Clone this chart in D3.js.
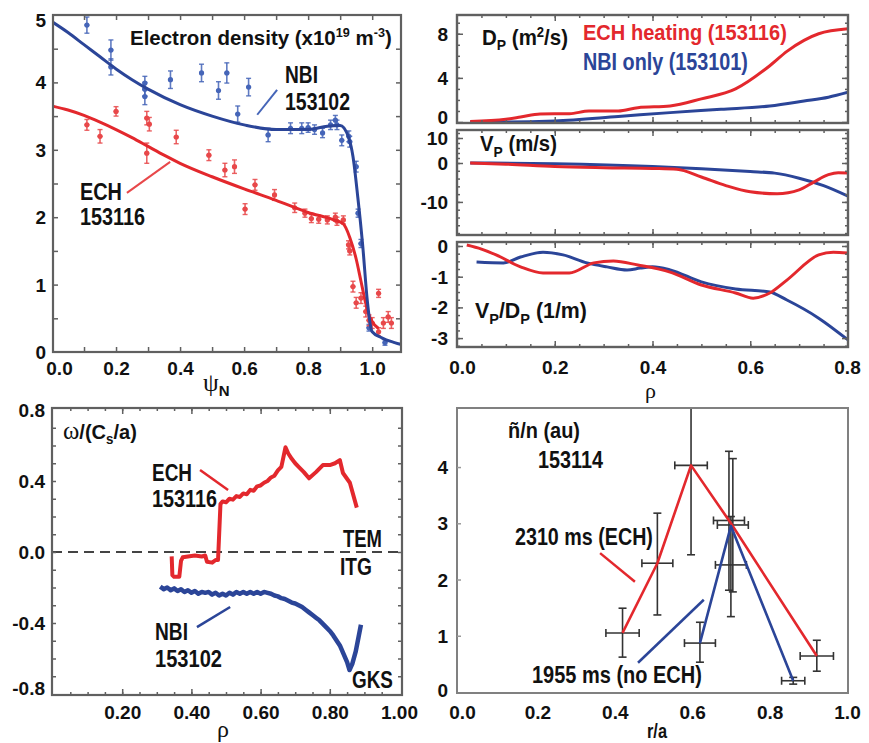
<!DOCTYPE html>
<html><head><meta charset="utf-8">
<script src="https://cdn.jsdelivr.net/npm/d3@7"></script>
<style>
body{margin:0;background:#fff}
svg{display:block}
text{font-family:"Liberation Sans",Arial,Helvetica,sans-serif;font-weight:bold;fill:#111}
</style></head><body>
<svg id="c" width="869" height="743"></svg>
<script>
// ================= DATA =================
// Panel A: electron density vs psi_N
const psiTickLabels = [0.0, 0.2, 0.4, 0.6, 0.8, 1.0];
const neTickLabels = [0, 1, 2, 3, 4, 5];
const nbiFit = [[0,4.9],[0.05,4.74],[0.1,4.56],[0.15,4.38],[0.2,4.2],[0.25,4.04],[0.3,3.9],[0.4,3.67],[0.5,3.5],[0.6,3.37],[0.7,3.3],[0.8,3.3],[0.86,3.35],[0.9,3.36],[0.925,3.2],[0.94,2.9],[0.955,2.3],[0.97,1.6],[0.985,0.75],[0.995,0.38],[1.0,0.3],[1.03,0.21],[1.07,0.14],[1.1,0.1]];
const echFit = [[0,3.65],[0.05,3.59],[0.1,3.51],[0.15,3.41],[0.2,3.3],[0.25,3.18],[0.3,3.05],[0.35,2.92],[0.4,2.8],[0.5,2.6],[0.6,2.42],[0.7,2.25],[0.8,2.07],[0.88,1.96],[0.91,1.9],[0.93,1.7],[0.95,1.38],[0.965,1.05],[0.98,0.72],[0.99,0.55],[1.0,0.45],[1.02,0.35]];
// [psi, ne, error]
const nbiPts = [[0.109,4.85,0.12],[0.184,4.48,0.15],[0.184,4.23,0.12],[0.29,3.99,0.1],[0.29,3.9,0.1],[0.29,3.79,0.12],[0.37,4.04,0.13],[0.467,4.14,0.13],[0.52,3.88,0.13],[0.546,4.14,0.15],[0.614,3.93,0.13],[0.58,3.53,0.12],[0.675,3.22,0.1],[0.745,3.32,0.08],[0.78,3.32,0.08],[0.80,3.33,0.07],[0.82,3.3,0.07],[0.845,3.25,0.07],[0.87,3.37,0.07],[0.885,3.44,0.07],[0.89,3.37,0.07],[0.905,3.14,0.08],[0.927,3.2,0.08],[0.93,3.12,0.08],[0.95,2.75,0.08],[0.956,2.06,0.06],[0.965,1.61,0.06],[0.99,0.36,0.05],[1.04,0.14,0.04]];
const echPts = [[0.109,3.37,0.08],[0.15,3.2,0.1],[0.2,3.57,0.07],[0.296,3.47,0.1],[0.304,3.38,0.1],[0.296,2.95,0.15],[0.388,3.19,0.1],[0.49,2.92,0.08],[0.54,2.7,0.1],[0.57,2.75,0.1],[0.603,2.12,0.08],[0.634,2.48,0.08],[0.695,2.33,0.08],[0.758,2.14,0.07],[0.79,2.06,0.06],[0.81,1.98,0.06],[0.833,1.97,0.06],[0.86,1.96,0.06],[0.885,2.0,0.06],[0.89,1.94,0.06],[0.91,1.96,0.06],[0.926,1.59,0.06],[0.93,1.5,0.06],[0.94,0.97,0.08],[0.95,0.73,0.08],[0.965,0.8,0.08],[0.98,0.6,0.08],[0.99,0.47,0.08],[1.0,0.43,0.08],[1.02,0.87,0.06],[1.02,0.3,0.06],[1.035,0.43,0.08],[1.05,0.52,0.08],[1.06,0.43,0.08]];

// Panel B: transport coefficients vs rho
const rhoTickLabelsB = [0.0, 0.2, 0.4, 0.6, 0.8];
const dTickLabels = [0, 4, 8];
const vTickLabels = [-10, 0, 10];
const vdTickLabels = [-3, -2, -1, 0];
const dEch = [[0.027,0.05],[0.1,0.25],[0.13,0.45],[0.17,0.73],[0.23,0.75],[0.27,1.0],[0.33,1.0],[0.37,1.3],[0.436,1.45],[0.5,2.1],[0.57,3.0],[0.64,5.1],[0.675,6.4],[0.71,7.4],[0.74,8.0],[0.8,8.45]];
const dNbi = [[0.027,0],[0.1,0],[0.2,0.1],[0.33,0.5],[0.436,0.85],[0.54,1.15],[0.64,1.45],[0.71,1.9],[0.76,2.25],[0.8,2.7]];
const vEch = [[0.027,0],[0.1,-0.3],[0.2,-0.9],[0.3,-1.2],[0.4,-1.4],[0.45,-1.6],[0.5,-3.6],[0.55,-5.8],[0.6,-7.4],[0.655,-7.9],[0.7,-6.9],[0.73,-4.9],[0.76,-3.0],[0.78,-2.5],[0.8,-2.6]];
const vNbi = [[0.027,0],[0.2,-0.2],[0.4,-0.9],[0.5,-1.5],[0.6,-2.2],[0.65,-2.6],[0.7,-3.9],[0.75,-5.8],[0.8,-8.5]];
const vdEch = [[0.02,0.03],[0.05,-0.1],[0.08,-0.29],[0.13,-0.68],[0.176,-0.88],[0.23,-0.88],[0.28,-0.55],[0.32,-0.49],[0.37,-0.62],[0.436,-0.85],[0.5,-1.27],[0.57,-1.53],[0.606,-1.7],[0.64,-1.53],[0.675,-1.11],[0.74,-0.29],[0.77,-0.2],[0.8,-0.23]];
const vdNbi = [[0.04,-0.52],[0.095,-0.55],[0.13,-0.36],[0.176,-0.2],[0.217,-0.29],[0.266,-0.55],[0.307,-0.68],[0.348,-0.78],[0.375,-0.72],[0.4,-0.68],[0.436,-0.78],[0.5,-1.17],[0.57,-1.4],[0.64,-1.5],[0.675,-1.76],[0.74,-2.35],[0.8,-3.06]];

// Panel C: real frequency omega/(Cs/a) vs rho (GKS)
const rhoTickLabelsC = [0.2, 0.4, 0.6, 0.8, 1.0];
const omegaTickLabels = [-0.8, -0.4, 0.0, 0.4, 0.8];
const omegaEch = [[0.343,-0.025],[0.345,-0.13],[0.35,-0.14],[0.365,-0.14],[0.37,-0.05],[0.375,-0.03],[0.39,-0.025],[0.41,-0.02],[0.43,-0.025],[0.44,-0.02],[0.445,-0.055],[0.46,-0.06],[0.47,-0.045],[0.477,-0.045],[0.484,0.27],[0.49,0.285],[0.5,0.28],[0.51,0.3],[0.52,0.295],[0.53,0.315],[0.54,0.31],[0.55,0.33],[0.56,0.325],[0.57,0.35],[0.58,0.345],[0.59,0.37],[0.6,0.375],[0.61,0.39],[0.62,0.4],[0.63,0.42],[0.64,0.43],[0.65,0.46],[0.66,0.48],[0.672,0.59],[0.68,0.555],[0.69,0.525],[0.7,0.5],[0.71,0.48],[0.725,0.45],[0.74,0.415],[0.76,0.45],[0.78,0.49],[0.8,0.49],[0.815,0.5],[0.829,0.518],[0.838,0.445],[0.858,0.39],[0.878,0.25]];
const omegaNbi = [[0.31,-0.195],[0.32,-0.21],[0.33,-0.2],[0.34,-0.215],[0.35,-0.205],[0.36,-0.22],[0.37,-0.21],[0.38,-0.225],[0.39,-0.215],[0.4,-0.23],[0.41,-0.22],[0.42,-0.235],[0.43,-0.225],[0.44,-0.23],[0.45,-0.225],[0.46,-0.24],[0.47,-0.23],[0.48,-0.245],[0.49,-0.235],[0.5,-0.245],[0.51,-0.23],[0.52,-0.24],[0.53,-0.225],[0.54,-0.235],[0.55,-0.225],[0.56,-0.235],[0.57,-0.225],[0.58,-0.235],[0.59,-0.225],[0.6,-0.235],[0.61,-0.225],[0.62,-0.23],[0.63,-0.235],[0.64,-0.245],[0.65,-0.25],[0.66,-0.26],[0.67,-0.265],[0.68,-0.275],[0.69,-0.285],[0.7,-0.29],[0.71,-0.3],[0.72,-0.31],[0.73,-0.325],[0.74,-0.34],[0.75,-0.355],[0.76,-0.37],[0.77,-0.385],[0.78,-0.405],[0.79,-0.425],[0.8,-0.445],[0.81,-0.47],[0.82,-0.5],[0.83,-0.53],[0.84,-0.575],[0.85,-0.62],[0.857,-0.665],[0.865,-0.63],[0.875,-0.56],[0.883,-0.48],[0.89,-0.41]];

// Panel D: density fluctuation vs r/a
const raTickLabels = [0.0, 0.2, 0.4, 0.6, 0.8, 1.0];
const fluctTickLabels = [0, 1, 2, 3, 4];
// [r/a, value, low, high, xerr]
const fluctPts = [[0.42,1.05,0.62,1.49,0.043],[0.51,2.29,1.37,3.18,0.04],[0.597,4.03,2.44,5.2,0.042],[0.695,3.05,1.81,4.28,0.04],[0.705,2.97,1.78,4.15,0.04],[0.70,2.26,1.34,3.12,0.04],[0.62,0.87,0.53,1.24,0.04],[0.861,0.2,0.14,0.26,0.03],[0.922,0.64,0.37,0.92,0.043]];
const fluctEch = [[0.42,1.05],[0.51,2.29],[0.597,4.03],[0.70,3.0],[0.922,0.64]];
const fluctNbi = [[0.62,0.87],[0.70,2.95],[0.861,0.2]];

// ================= DRAWING =================
const svg = d3.select('#c');
const RED = '#e3282d', BLUE = '#2b4598', RED_L = '#e8484a', BLUE_L = '#4565b8';
const FRAME = '#606060';

function frameRect(g, f, color, w){
  g.append('rect').attr('x',f[0]).attr('y',f[2]).attr('width',f[1]-f[0]).attr('height',f[3]-f[2])
   .attr('fill','none').attr('stroke',color||FRAME).attr('stroke-width',w||2.2);
}
function clip(id, f){
  svg.append('clipPath').attr('id',id).append('rect').attr('x',f[0]).attr('y',f[2]).attr('width',f[1]-f[0]).attr('height',f[3]-f[2]);
  return svg.append('g').attr('clip-path',`url(#${id})`);
}
function ticks(g, scale, vals, side, f, len, color){
  let ax, tr;
  if(side==='bottom'){ax=d3.axisBottom(scale); tr=`translate(0,${f[3]})`;}
  if(side==='top'){ax=d3.axisTop(scale); tr=`translate(0,${f[2]})`;}
  if(side==='left'){ax=d3.axisLeft(scale); tr=`translate(${f[0]},0)`;}
  if(side==='right'){ax=d3.axisRight(scale); tr=`translate(${f[1]},0)`;}
  const a = g.append('g').attr('transform',tr).call(ax.tickValues(vals).tickSize(-len).tickFormat(''));
  a.select('.domain').remove();
  a.selectAll('line').attr('stroke',color||FRAME).attr('stroke-width',1.5);
}
function labels(g, orient, scale, vals, fmt, pos, shift, fs){
  shift = shift||{};
  const ax = (orient==='bottom'?d3.axisBottom:d3.axisLeft)(scale).tickValues(vals).tickSize(0).tickFormat(fmt);
  const a = g.append('g').attr('transform', orient==='bottom'?`translate(0,${pos})`:`translate(${pos},0)`).call(ax);
  a.select('.domain').remove();
  const t = a.selectAll('text').style('font-size',(fs||19)+'px').attr('fill','#111');
  if(orient==='bottom'){ t.attr('y',0).attr('dy',0).attr('dx', d=>shift[d]||0); }
  else { t.attr('x',0).attr('dy', d=>6.5+(shift[d]||0)); }
}
function fitText(x, y, w, parts, opt){
  opt = opt||{};
  const t = svg.append('text').attr('x',0).attr('y',0).style('font-size',(opt.fs||24)+'px').style('fill',opt.color||'#111');
  if(opt.family) t.style('font-family',opt.family);
  if(opt.weight) t.style('font-weight',opt.weight);
  parts.forEach(p=>{
    if(typeof p==='string'){ t.append('tspan').text(p); return; }
    const s = t.append('tspan').text(p.t);
    if(p.fs) s.style('font-size',p.fs+'px');
    if(p.dy) s.attr('dy',p.dy);
    if(p.family) s.style('font-family',p.family);
    if(p.weight) s.style('font-weight',p.weight);
  });
  const bw = t.node().getComputedTextLength();
  const sx = w ? w/bw : 1;
  t.attr('transform',`translate(${x},${y}) scale(${sx},1)`);
  return t;
}
function leader(xs, ys, p0, p1, color, w){
  svg.append('line').attr('x1',xs(p0[0])).attr('y1',ys(p0[1])).attr('x2',xs(p1[0])).attr('y2',ys(p1[1]))
    .attr('stroke',color).attr('stroke-width',w||2);
}
const mono = (xs,ys)=>d3.line().x(d=>xs(d[0])).y(d=>ys(d[1])).curve(d3.curveMonotoneX);
const lin = (xs,ys)=>d3.line().x(d=>xs(d[0])).y(d=>ys(d[1]));
const GREEK = '"Liberation Serif","DejaVu Serif",serif';

// ---------- Panel A ----------
{
  const f=[53,401,15,352];
  const x=d3.scaleLinear([0,1.09],[52,401]);
  const y=d3.scaleLinear([0,5],[352,15]);
  const g=clip('cA',f);
  [[nbiPts,BLUE_L],[echPts,RED_L]].forEach(([pts,col])=>{
    const pg=g.append('g');
    pts.forEach(d=>{
      const px=x(d[0]), y0=y(d[1]-d[2]), y1=y(d[1]+d[2]);
      pg.append('line').attr('x1',px).attr('x2',px).attr('y1',y0).attr('y2',y1).attr('stroke',col).attr('stroke-width',1.6).attr('opacity',0.85);
      [y0,y1].forEach(yy=>pg.append('line').attr('x1',px-2.5).attr('x2',px+2.5).attr('y1',yy).attr('y2',yy).attr('stroke',col).attr('stroke-width',1.4).attr('opacity',0.85));
      pg.append('line').attr('x1',px-2.5).attr('x2',px+2.5).attr('y1',y(d[1])).attr('y2',y(d[1])).attr('stroke',col).attr('stroke-width',1.4);
      pg.append('circle').attr('cx',px).attr('cy',y(d[1])).attr('r',2.6).attr('fill',col);
    });
  });
  g.append('path').datum(echFit).attr('d',mono(x,y)).attr('fill','none').attr('stroke',RED).attr('stroke-width',3);
  g.append('path').datum(nbiFit).attr('d',mono(x,y)).attr('fill','none').attr('stroke',BLUE).attr('stroke-width',3);
  frameRect(svg,f);
  ticks(svg,x,d3.range(0.1,1.05,0.1),'bottom',f,5);
  ticks(svg,x,d3.range(0.1,1.05,0.1),'top',f,5);
  ticks(svg,y,d3.range(0.5,5,0.5),'left',f,5);
  ticks(svg,y,d3.range(0.5,5,0.5),'right',f,5);
  labels(svg,'bottom',x,psiTickLabels,d=>d.toFixed(1),375,{0:7});
  labels(svg,'left',y,neTickLabels,d=>String(d),46,{5:5});
  fitText(130,45,262,['Electron density (x10',{t:'19',fs:13,dy:-8},{t:' m',dy:8},{t:'-3',fs:13,dy:-8},{t:')',dy:8}],{fs:21});
  fitText(285,83,33,['NBI']);
  fitText(285,110,65,['153102']);
  fitText(80,200,42,['ECH']);
  fitText(80,225,65,['153116']);
  leader(x,y,[0.703,3.89],[0.641,3.52],BLUE_L,2);
  leader(x,y,[0.234,2.36],[0.369,2.82],RED_L,2);
  fitText(203,391,null,[{t:'ψ',family:GREEK,weight:'normal',fs:25},{t:'N',fs:15,dy:5}],{fs:25});
}

// ---------- Panel B ----------
{
  const x=d3.scaleLinear([0,0.8],[457,848]);
  const subs=[
    {f:[457,848,15,123], y:d3.scaleLinear([0,9.7],[122,15]), ech:dEch, nbi:dNbi, ticks:dTickLabels, minor:d3.range(1,10,1), shift:{0:-5}, id:'cB1'},
    {f:[457,848,130,235], y:d3.scaleLinear([-18.5,0,13.2],[235,163,130]), ech:vEch, nbi:vNbi, ticks:vTickLabels, minor:d3.range(-18,13,2), shift:{}, id:'cB2'},
    {f:[457,848,242,347], y:d3.scaleLinear([-3.29,0.13],[347,242]), ech:vdEch, nbi:vdNbi, ticks:vdTickLabels, minor:d3.range(-3.25,0.1,0.25), shift:{}, id:'cB3'}
  ];
  subs.forEach(s=>{
    const g=clip(s.id,s.f);
    g.append('path').datum(s.nbi).attr('d',mono(x,s.y)).attr('fill','none').attr('stroke',BLUE).attr('stroke-width',3);
    g.append('path').datum(s.ech).attr('d',mono(x,s.y)).attr('fill','none').attr('stroke',RED).attr('stroke-width',3);
    frameRect(svg,s.f,FRAME,2.4);
    const minorX=d3.range(0.05,0.8,0.05), majorX=[0.2,0.4,0.6];
    ticks(svg,x,minorX,'bottom',s.f,3); ticks(svg,x,minorX,'top',s.f,3);
    ticks(svg,x,majorX,'bottom',s.f,6); ticks(svg,x,majorX,'top',s.f,6);
    ticks(svg,s.y,s.minor,'left',s.f,3); ticks(svg,s.y,s.minor,'right',s.f,3);
    ticks(svg,s.y,s.ticks,'left',s.f,6); ticks(svg,s.y,s.ticks,'right',s.f,6);
    labels(svg,'left',s.y,s.ticks,d=>String(d),448,s.shift);
  });
  labels(svg,'bottom',x,rhoTickLabelsB,d=>d.toFixed(1),374,{0:5,0.8:-1});
  fitText(482,45,86,['D',{t:'P',fs:15,dy:5},{t:' (m',dy:-5},{t:'2',fs:14,dy:-8},{t:'/s)',dy:8}],{fs:22});
  fitText(583,40,204,['ECH heating (153116)'],{fs:23,color:RED});
  fitText(583,70,165,['NBI only (153101)'],{fs:23,color:BLUE});
  fitText(480,151,77,['V',{t:'P',fs:15,dy:6},{t:' (m/s)',dy:-6}],{fs:22});
  fitText(475,318,112,['V',{t:'P',fs:15,dy:6},{t:'/D',dy:-6},{t:'P',fs:15,dy:6},{t:' (1/m)',dy:-6}],{fs:22});
  fitText(645,398,null,[{t:'ρ',family:GREEK,weight:'normal'}],{fs:22});
}

// ---------- Panel C ----------
{
  const f=[52,402,408,695];
  const x=d3.scaleLinear([0,1],[53,399]);
  const y=d3.scaleLinear([-0.8,0.8],[694,410]);
  const g=clip('cC',f);
  g.append('line').attr('x1',f[0]).attr('x2',f[1]).attr('y1',y(0)).attr('y2',y(0)).attr('stroke','#444').attr('stroke-width',2).attr('stroke-dasharray','10,6');
  g.append('path').datum(omegaNbi).attr('d',lin(x,y)).attr('fill','none').attr('stroke',BLUE).attr('stroke-width',4.5).attr('stroke-linejoin','round');
  g.append('path').datum(omegaEch).attr('d',lin(x,y)).attr('fill','none').attr('stroke',RED).attr('stroke-width',4).attr('stroke-linejoin','round');
  frameRect(svg,f);
  const minorX=d3.range(0.05,1,0.05), majorX=[0.2,0.4,0.6,0.8];
  ticks(svg,x,minorX,'bottom',f,3); ticks(svg,x,minorX,'top',f,3);
  ticks(svg,x,majorX,'bottom',f,6); ticks(svg,x,majorX,'top',f,6);
  const minorY=d3.range(-0.7,0.8,0.1);
  ticks(svg,y,minorY,'left',f,4); ticks(svg,y,minorY,'right',f,4);
  labels(svg,'bottom',x,rhoTickLabelsC,d=>d.toFixed(2),719);
  labels(svg,'left',y,omegaTickLabels,d=>d.toFixed(1),45,{'-0.8':-6});
  fitText(63,439,74,[{t:'ω',family:GREEK,weight:'normal',fs:26},'/(C',{t:'s',fs:14,dy:5},{t:'/a)',dy:-5}],{fs:21});
  fitText(152,481,40,['ECH']);
  fitText(152,507,65,['153116']);
  fitText(343,547,39,['TEM']);
  fitText(340,575,32,['ITG']);
  fitText(155,640,33,['NBI']);
  fitText(155,667,67,['153102']);
  fitText(352,688,41,['GKS']);
  leader(x,y,[0.425,0.462],[0.506,0.349],RED,2.5);
  leader(x,y,[0.416,-0.423],[0.512,-0.31],BLUE,2.5);
  fitText(217,737,null,[{t:'ρ',family:GREEK,weight:'normal'}],{fs:24});
}

// ---------- Panel D ----------
{
  const f=[457,848,408,693];
  const x=d3.scaleLinear([0,1],[460,847]);
  const y=d3.scaleLinear([0,5.05],[692,408]);
  const g=clip('cD',f);
  const eg=g.append('g').attr('stroke','#333').attr('stroke-width',1.6);
  fluctPts.forEach(d=>{
    const px=x(d[0]), py=y(d[1]);
    eg.append('line').attr('x1',px).attr('x2',px).attr('y1',y(d[2])).attr('y2',y(d[3]));
    [d[2],d[3]].forEach(v=>eg.append('line').attr('x1',px-4).attr('x2',px+4).attr('y1',y(v)).attr('y2',y(v)));
    eg.append('line').attr('x1',x(d[0]-d[4])).attr('x2',x(d[0]+d[4])).attr('y1',py).attr('y2',py);
    [d[0]-d[4],d[0]+d[4]].forEach(v=>eg.append('line').attr('x1',x(v)).attr('x2',x(v)).attr('y1',py-4).attr('y2',py+4));
  });
  g.append('path').datum(fluctEch).attr('d',lin(x,y)).attr('fill','none').attr('stroke',RED).attr('stroke-width',2.6).attr('stroke-linejoin','round');
  g.append('path').datum(fluctNbi).attr('d',lin(x,y)).attr('fill','none').attr('stroke',BLUE).attr('stroke-width',2.6).attr('stroke-linejoin','round');
  frameRect(svg,f,'#808080',2);
  ticks(svg,y,fluctTickLabels.slice(1),'left',f,4,'#999');
  labels(svg,'bottom',x,raTickLabels,d=>d.toFixed(1),719,{0:2});
  labels(svg,'left',y,fluctTickLabels,d=>String(d),448,{0:-2});
  fitText(508,438,72,['ñ/n (au)'],{fs:22});
  fitText(538,468,65,['153114']);
  fitText(515,545,138,['2310 ms (ECH)'],{fs:23});
  fitText(532,683,170,['1955 ms (no ECH)'],{fs:23});
  leader(x,y,[0.362,2.47],[0.452,1.96],RED,2.5);
  leader(x,y,[0.46,0.52],[0.63,1.64],BLUE,2.5);
  fitText(647,738,20,['r/a'],{fs:21});
}
</script>
</body></html>
